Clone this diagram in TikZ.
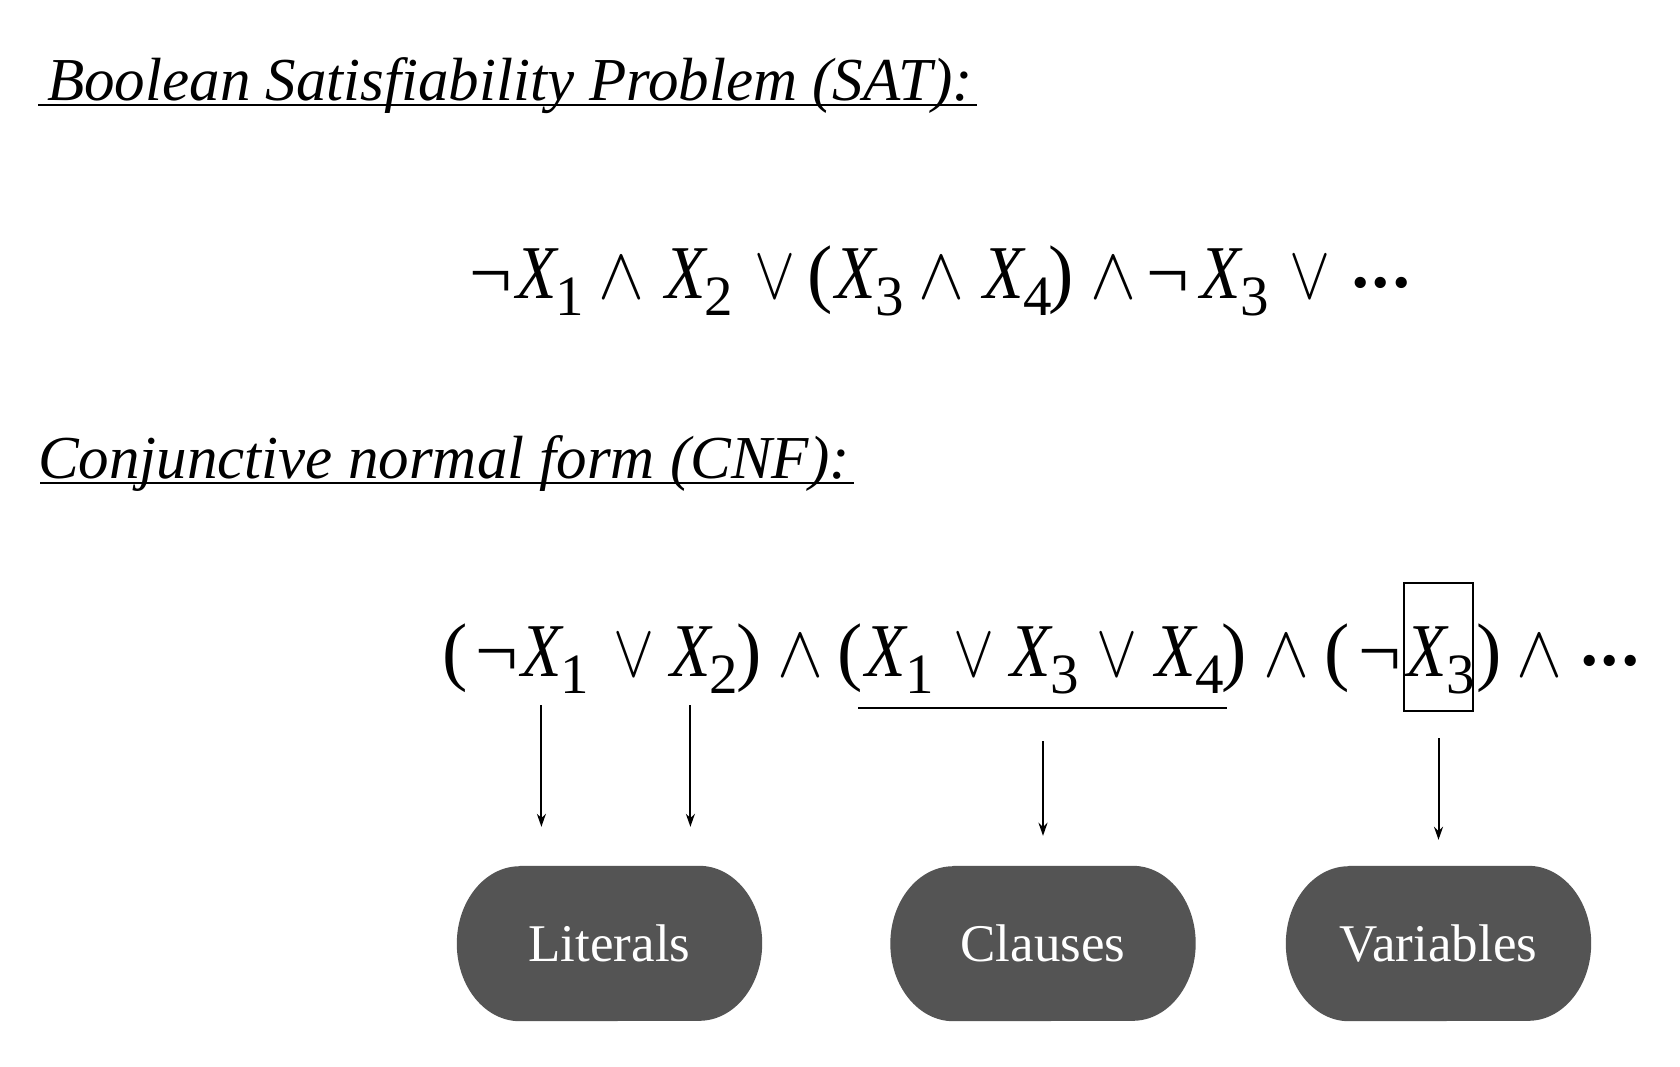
\documentclass[tikz,border=0pt]{standalone}
\usepackage{graphicx}
\usepackage{fontspec}
\setmainfont{Liberation Serif}
\usetikzlibrary{arrows.meta,backgrounds}
\definecolor{pillgray}{HTML}{545454}
\newcommand\Fsz{\fontsize{76}{80}\selectfont}
\newcommand\XX{\scalebox{0.87}[1]{X}}
\newcommand\An{\resizebox{46pt}{41pt}{$\wedge$}}
\newcommand\Or{\resizebox{41pt}{42pt}{$\vee$}}
\newcommand\Dts{{\fontsize{47}{47}\selectfont •\kern4pt•\kern4pt•}}
\newcommand\pillshape[1]{\fill[pillgray] ([xshift=63pt]#1.north west) -- ([xshift=-63pt]#1.north east)
  arc[start angle=90,end angle=-90,x radius=63pt,y radius=77.5pt] -- ([xshift=63pt]#1.south west)
  arc[start angle=270,end angle=90,x radius=63pt,y radius=77.5pt] -- cycle;}
\begin{document}
\begin{tikzpicture}[x=1pt,y=-1pt,
  sym/.style={inner sep=0pt, anchor=base, font=\Fsz},
  xv/.style={inner sep=0pt, anchor=base west, font=\Fsz\itshape},
  sub/.style={inner sep=0pt, anchor=base west, font=\fontsize{57}{57}\selectfont},
  subat/.style={xshift=-1pt,yshift=-17pt},
  ttl/.style={inner sep=0pt, anchor=base west, font=\fontsize{61}{66}\selectfont\itshape},
  uline/.style={line width=2pt},
  pill/.style={text=white, minimum width=305pt, minimum height=155pt, font=\fontsize{53}{56}\selectfont, inner sep=0pt},
  arr/.style={line width=2pt, -{Stealth[length=13pt,width=9pt]}}]
\useasboundingbox (0,0) rectangle (1680,1066);
% titles
\node[ttl] (t1) at (47,100) {Boolean Satisfiability Problem (SAT):};
\draw[uline] ([xshift=-9pt,yshift=-5pt]t1.base west) -- ([xshift=4pt,yshift=-5pt]t1.base east);
\node[ttl] (t2) at (38,478) {Conjunctive normal form (CNF):};
\draw[uline] ([xshift=2pt,yshift=-5pt]t2.base west) -- ([xshift=4pt,yshift=-5pt]t2.base east);
% formula 1
\node[sym] (f1neg1) at (491,298) {¬};
\node[xv] (f1x1) at (516,298) {\XX};
\node[sub] (f1s1) at ([subat]f1x1.base east) {1};
\node[sym] (f1and1) at (621,298) {\An};
\node[xv] (f1x2) at (665,298) {\XX};
\node[sub] (f1s2) at ([subat]f1x2.base east) {2};
\node[sym] (f1or1) at (774.5,298) {\Or};
\node[sym] (f1lp) at (820,298) {(};
\node[xv] (f1x3) at (835,298) {\XX};
\node[sub] (f1s3) at ([subat]f1x3.base east) {3};
\node[sym] (f1and2) at (941,298) {\An};
\node[xv] (f1x4) at (983,298) {\XX};
\node[sub] (f1s4) at ([subat]f1x4.base east) {4};
\node[sym] (f1rp) at (1061,298) {)};
\node[sym] (f1and3) at (1113,298) {\An};
\node[sym] (f1neg2) at (1167.5,298) {¬};
\node[xv] (f1x5) at (1200,298) {\XX};
\node[sub] (f1s5) at ([subat]f1x5.base east) {3};
\node[sym] (f1or2) at (1310,298) {\Or};
\node[sym] (f1dots) at (1381,298) {\Dts};
% formula 2
\node[sym] (f2lp1) at (455,676) {(};
\node[sym] (f2neg1) at (497,676) {¬};
\node[xv] (lit1) at (521,676) {\XX};
\node[sub] (lit1s) at ([subat]lit1.base east) {1};
\node[sym] (f2or1) at (634,676) {\Or};
\node[xv] (lit2) at (670,676) {\XX};
\node[sub] (lit2s) at ([subat]lit2.base east) {2};
\node[sym] (f2rp1) at (749,676) {)};
\node[sym] (f2and1) at (800,676) {\An};
\node[sym] (f2lp2) at (850,676) {(};
\node[xv] (c1) at (865,676) {\XX};
\node[sub] (c1s) at ([subat]c1.base east) {1};
\node[sym] (f2or2) at (974,676) {\Or};
\node[xv] (c3) at (1010,676) {\XX};
\node[sub] (c3s) at ([subat]c3.base east) {3};
\node[sym] (f2or3) at (1117,676) {\Or};
\node[xv] (c4) at (1155,676) {\XX};
\node[sub] (c4s) at ([subat]c4.base east) {4};
\node[sym] (f2rp2) at (1234,676) {)};
\node[sym] (f2and2) at (1286,676) {\An};
\node[sym] (f2lp3) at (1337.5,676) {(};
\node[sym] (f2neg2) at (1380,676) {¬};
\node[xv] (var) at (1406,676) {\XX};
\node[sub] (vars) at ([subat]var.base east) {3};
\node[sym] (f2rp3) at (1489,676) {)};
\node[sym] (f2and3) at (1539,676) {\An};
\node[sym] (f2dots) at (1610,676) {\Dts};
% clause underline and variable box
\coordinate (ulL) at (858,708);
\coordinate (ulR) at (1227,708);
\draw[line width=2.6pt] (ulL) -- (ulR);
\node[draw, line width=2.2pt, minimum width=69pt, minimum height=128pt, inner sep=0pt] (varbox) at (1438.5,647) {};
% pills
\node[pill] (nlit) at (609.5,943.5) {Literals};
\node[pill] (ncls) at (1043,943.5) {Clauses};
\node[pill] (nvar) at (1438.5,943.5) {Variables};
\begin{scope}[on background layer]
\fill[white] (0,0) rectangle (1680,1066);
\pillshape{nlit}
\pillshape{ncls}
\pillshape{nvar}
\end{scope}
% arrows
\draw[arr, shorten <=29pt, shorten >=39pt] (lit1.south) -- (lit1.south |- nlit.north);
\draw[arr, shorten <=29pt, shorten >=39pt] (lit2.south) -- (lit2.south |- nlit.north);
\draw[arr, shorten <=33pt, shorten >=30pt] (ncls.north |- ulL) -- (ncls.north);
\draw[arr, shorten <=26pt, shorten >=26pt] (varbox.south) -- (varbox.south |- nvar.north);
\end{tikzpicture}
\end{document}
